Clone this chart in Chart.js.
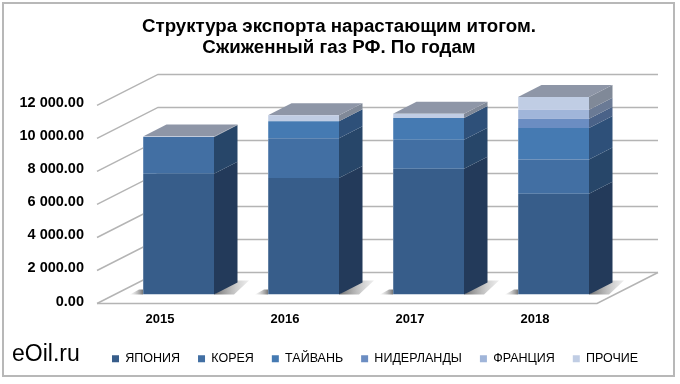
<!DOCTYPE html>
<html>
<head>
<meta charset="utf-8">
<script src="https://cdn.jsdelivr.net/npm/chart.js@4/dist/chart.umd.min.js"></script>
<style>
  html, body { margin: 0; padding: 0; background: #fff; }
  canvas { display: block; }
</style>
</head>
<body>
<canvas id="chartcanvas" width="680" height="384"></canvas>
<script>
const years = ['2015', '2016', '2017', '2018'];
const japan = [7315, 7050, 7615, 6100];
const korea = [2220, 2420, 1760, 2080];
const taiwan = [0, 1030, 1310, 1900];
const netherlands = [0, 0, 0, 570];
const france = [0, 0, 0, 545];
const others = [40, 350, 265, 765];

const seriesNames = ['ЯПОНИЯ', 'КОРЕЯ', 'ТАЙВАНЬ', 'НИДЕРЛАНДЫ', 'ФРАНЦИЯ', 'ПРОЧИЕ'];
const seriesValues = [japan, korea, taiwan, netherlands, france, others];
const frontColors = ['#375d8a', '#426fa3', '#457ab2', '#6b8dc2', '#a0b5d9', '#c0cde4'];
const sideColors = ['#233a5a', '#274669', '#2e5079', '#4a6288', '#6a7a95', '#808998'];
const topColor = '#8e96a7';
const gridColor = '#b4b4b4';

// 3d look: offsets from the plane of the bars
const backDx = 42, backDy = -22;
const frontDx = -19, frontDy = 9;
const barDx = 23.5, barDy = -12;

function poly(c, pts, fill) {
  c.beginPath();
  pts.forEach((p, i) => i ? c.lineTo(p[0], p[1]) : c.moveTo(p[0], p[1]));
  c.closePath();
  c.fillStyle = fill;
  c.fill();
}

const box3d = {
  id: 'box3d',
  afterLayout(chart) {
    // title and legend are placed on the whole picture, not on the plot
    chart.titleBlock.left = 0;
    chart.titleBlock.right = 678;
    chart.legend.left = 94;
    chart.legend.right = 680;
  },
  beforeDatasetsDraw(chart) {
    const c = chart.ctx;
    const y = chart.scales.y;
    const a = chart.chartArea;
    c.save();
    // frame
    c.strokeStyle = '#b8b8b8';
    c.lineWidth = 2;
    c.strokeRect(3, 3, 671, 373);
    // grid on the back wall and left wall
    c.strokeStyle = gridColor;
    c.lineWidth = 1.5;
    y.ticks.forEach((t) => {
      const py = y.getPixelForValue(t.value);
      c.beginPath();
      c.moveTo(a.left + frontDx, py + frontDy);
      c.lineTo(a.left + backDx, py + backDy);
      c.lineTo(a.right + backDx, py + backDy);
      c.stroke();
    });
    // floor
    c.beginPath();
    c.moveTo(a.left + frontDx, a.bottom + frontDy);
    c.lineTo(a.right + frontDx, a.bottom + frontDy);
    c.lineTo(a.right + backDx, a.bottom + backDy);
    c.stroke();

    const metas = chart.getSortedVisibleDatasetMetas();
    years.forEach((yr, i) => {
      const b0 = metas[0].data[i];
      const l = b0.x - b0.width / 2, r = b0.x + b0.width / 2, base = b0.base;
      // shadow on the floor, right and left of the bar
      let g = c.createLinearGradient(r, 0, r + 34, 0);
      g.addColorStop(0, '#6e6e6e');
      g.addColorStop(1, 'rgba(190,190,190,0.3)');
      poly(c, [[r, base], [r + 20, base], [r + 35, base - 14], [r + 20, base - 14]], g);
      g = c.createLinearGradient(l - 13, 0, l, 0);
      g.addColorStop(0, 'rgba(190,190,190,0.1)');
      g.addColorStop(1, '#777');
      poly(c, [[l - 13, base], [l, base], [l, base - 5], [l - 4, base - 5]], g);

      // side faces
      let topY = base;
      metas.forEach((m, s) => {
        const el = m.data[i];
        if (seriesValues[s][i] <= 0) return;
        poly(c, [[r, el.base], [r + barDx, el.base + barDy], [r + barDx, el.y + barDy], [r, el.y]], sideColors[s]);
        topY = Math.min(topY, el.y);
      });
      // top face
      poly(c, [[l, topY], [r, topY], [r + barDx, topY + barDy], [l + barDx, topY + barDy]], topColor);
    });
    c.restore();
  },
  afterDatasetsDraw(chart) {
    const c = chart.ctx;
    c.save();
    const metas = chart.getSortedVisibleDatasetMetas();
    years.forEach((yr, i) => {
      const b0 = metas[0].data[i];
      let topY = b0.base;
      metas.forEach((m, s) => { if (seriesValues[s][i] > 0) topY = Math.min(topY, m.data[i].y); });
      // light edge on the left of the bar
      c.fillStyle = 'rgba(255,255,255,0.22)';
      c.fillRect(b0.x - b0.width / 2, topY, 1, b0.base - topY);
    });
    c.fillStyle = '#000';
    c.font = '23px "Liberation Sans"';
    c.textAlign = 'left';
    c.textBaseline = 'alphabetic';
    c.fillText('eOil.ru', 12, 361);
    c.restore();
  }
};

const ctx = document.getElementById('chartcanvas').getContext('2d');
window.chart = new Chart(ctx, {
  type: 'bar',
  data: {
    labels: years,
    datasets: seriesNames.map((name, s) => ({
      label: name,
      data: seriesValues[s],
      backgroundColor: frontColors[s],
      borderWidth: 0,
      barPercentage: 0.568,
      categoryPercentage: 1
    }))
  },
  options: {
    responsive: false,
    animation: false,
    layout: { padding: { left: 0, right: 64, top: 0, bottom: 9 } },
    scales: {
      x: {
        stacked: true,
        grid: { display: false },
        border: { display: false },
        afterFit(scale) { scale.height = 40; },
        ticks: {
          color: '#000',
          padding: 9,
          labelOffset: -18.5,
          maxRotation: 0,
          font: { family: '"Liberation Sans"', size: 13, weight: 'bold' }
        }
      },
      y: {
        stacked: true,
        min: 0,
        max: 12000,
        grid: { display: false, drawTicks: false },
        border: { display: false },
        afterFit(scale) { scale.width = 116; },
        ticks: {
          stepSize: 2000,
          color: '#000',
          padding: 32,
          labelOffset: 7,
          font: { family: '"Liberation Sans"', size: 14.5, weight: 'bold' },
          callback(v) {
            return String(v).replace(/\B(?=(\d{3})+$)/g, ' ') + '.00';
          }
        }
      }
    },
    plugins: {
      title: {
        display: true,
        text: ['Структура экспорта нарастающим итогом.', 'Сжиженный газ РФ. По годам'],
        color: '#000',
        font: { family: '"Liberation Sans"', size: 18.7, weight: 'bold', lineHeight: 1.12 },
        padding: { top: 16, bottom: 38.5 }
      },
      legend: {
        position: 'bottom',
        align: 'start',
        labels: {
          boxWidth: 7,
          boxHeight: 7,
          padding: 18,
          color: '#000',
          font: { family: '"Liberation Sans"', size: 12.5 }
        }
      },
      tooltip: { enabled: false }
    }
  },
  plugins: [box3d]
});
</script>
</body>
</html>
